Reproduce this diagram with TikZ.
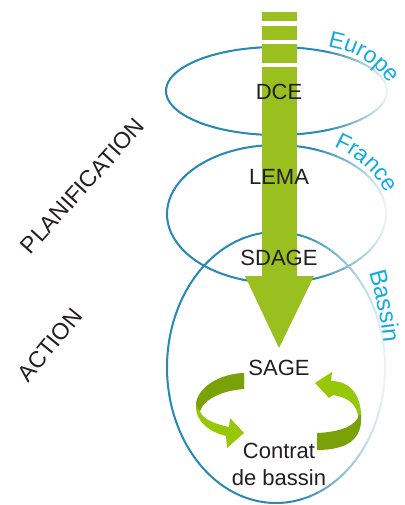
\documentclass[tikz,border=0pt]{standalone}
\usepackage{fontspec}
\setmainfont{Liberation Sans}
\usetikzlibrary{decorations.text}
\definecolor{ebl}{RGB}{38,138,178}
\definecolor{lblue}{RGB}{20,172,222}
\definecolor{agreen}{RGB}{153,192,31}
\definecolor{lgreen}{RGB}{150,200,8}
\definecolor{dgreen}{RGB}{122,162,8}
\definecolor{txt}{RGB}{35,31,32}
\newcommand\fadeellipse[5]{%
  \foreach \a in {0,4,...,356}{%
    \pgfmathsetmacro\u{cos(\a+2)}%
    \pgfmathsetmacro\p{\u<#5 ? 100 : 100-90*(\u-#5)/(1-#5)}%
    \draw[line width=2pt, line cap=round, ebl!\p!white]
      ({#1+#3*cos(\a)},{#2+#4*sin(\a)}) arc[start angle=\a, delta angle=4, x radius=#3, y radius=#4];
  }}
\begin{document}
\begin{tikzpicture}[x=1pt,y=-1pt,
  lbl/.style={font=\fontsize{22}{24}\selectfont, text=txt, inner sep=0pt, anchor=base},
  sidelbl/.style={font=\fontsize{23}{25}\selectfont, text=txt, inner sep=0pt},
  curvelbl/.style={decorate, decoration={text along path, text align=center}},
  ]
\useasboundingbox (0,0) rectangle (404,505);

% ellipses (fading towards the right)
\fadeellipse{276.5}{91}{110.5}{44}{0.45}
\fadeellipse{276.5}{214}{109.5}{69}{0.35}
\fadeellipse{276}{367.5}{109}{135.5}{0.2}

% big green arrow
\fill[agreen] (262,12) rectangle (297,21);
\fill[agreen] (262,26) rectangle (297,40);
\fill[agreen] (262,44) rectangle (297,63);
\fill[agreen] (262,67) rectangle (297,277);
\fill[agreen] (245,276) -- (314,276) -- (279,348) -- cycle;

% labels
\node[lbl] (dce) at (279,100) {DCE};
\node[lbl] (lema) at (279,184) {LEMA};
\node[lbl] (sdage) at (279,265) {SDAGE};
\node[lbl] (sage) at (279,375) {SAGE};
\node[lbl] (contrat) at (279,458) {Contrat};
\node[lbl] (bassin) at (279,485) {de bassin};

\node[sidelbl, rotate=48] (plan) at (82.5,186) {PLANIFICATION};
\node[sidelbl, rotate=51] (action) at (50,345) {ACTION};

% curved level labels
\path[curvelbl, decoration={text={|\color{lblue}\fontsize{23}{23}\selectfont|Europe}}]
  (325,46) .. controls (350,50) and (376,62) .. (391,86);
\path[curvelbl, decoration={text={|\color{lblue}\fontsize{23}{23}\selectfont|France}}]
  (330,145) .. controls (352,153) and (374,170) .. (388,197);
\path[curvelbl, decoration={text={|\color{lblue}\fontsize{24}{24}\selectfont|Bassin}}]
  (367,264) .. controls (375,290) and (382,318) .. (384,352);

% left circular arrow
\fill[lgreen] (244,373) .. controls (220,374) and (197,387) .. (196,405)
  .. controls (195,422) and (210,432) .. (226,436) -- (227,448) -- (244,433)
  -- (230,418) -- (229,427) .. controls (215,424) and (202,419) .. (200,411)
  .. controls (203,400) and (222,390) .. (244,389) -- cycle;
\fill[dgreen] (244,373) .. controls (220,374) and (197,387) .. (196,405)
  -- (200,411) .. controls (203,400) and (222,390) .. (244,389) -- cycle;

% right circular arrow
\fill[lgreen] (315,383) -- (332,372) -- (331,381) .. controls (350,381) and (361,395) .. (361,416)
  -- (358,416) .. controls (357,405) and (348,397) .. (333,395) -- (329,398) -- cycle;
\fill[dgreen] (317,433) .. controls (340,432) and (356,426) .. (359,415)
  -- (361,415) .. controls (363,440) and (346,450) .. (317,450) -- cycle;
\end{tikzpicture}
\end{document}
